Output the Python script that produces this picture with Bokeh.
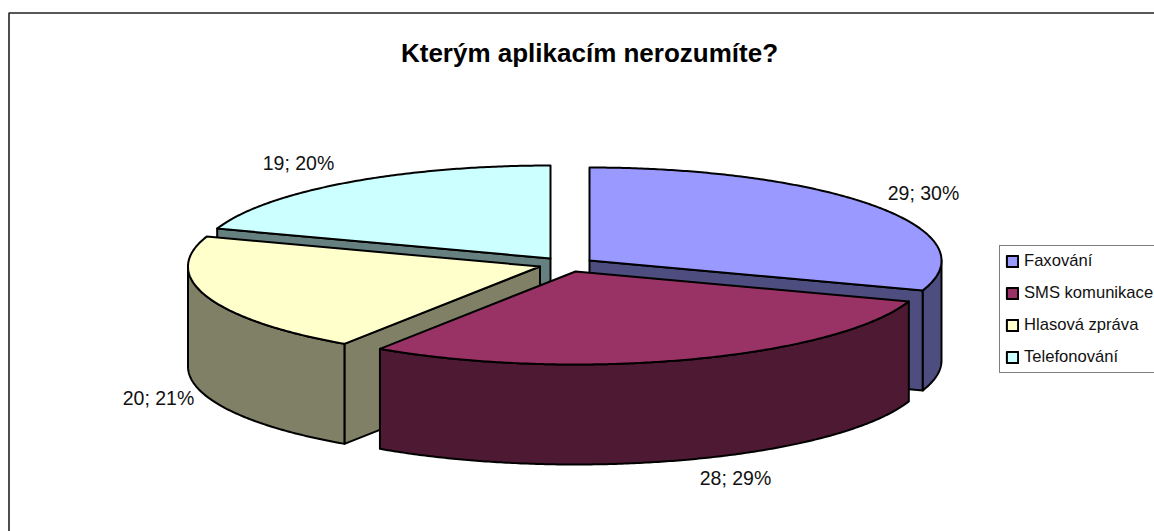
import numpy as np
from bokeh.plotting import figure
from bokeh.models import Range1d, Legend, LegendItem
from bokeh.core.properties import value
from bokeh.embed import file_html
from bokeh.resources import INLINE

# data
title = "Kterým aplikacím nerozumíte?"
categories = ["Faxování", "SMS komunikace", "Hlasová zpráva", "Telefonování"]
values = [29, 28, 20, 19]

# style
top_colors = ["#9999FF", "#993366", "#FFFFCC", "#CCFFFF"]
side_colors = ["#4D4D80", "#4D1933", "#808066", "#668080"]

# layout (page pixels)
apex_x = [589, 575, 539.5, 550]
apex_y = [260, 271, 266, 258]
label_x = [923, 735, 158, 298]
label_y = [192, 477, 397, 162]
RX, RY, DEPTH = 352, 93, 100
DRAW_ORDER = [3, 0, 2, 1]
LW = 2

p = figure(width=1154, height=531, output_backend="svg", toolbar_location=None,
           x_range=Range1d(0, 1154), y_range=Range1d(531, 0),
           min_border=0, outline_line_color=None, x_axis_type=None, y_axis_type=None)
p.grid.visible = False
p.background_fill_color = "white"
p.border_fill_color = "white"

# chart frame (right and bottom run off the page)
p.line([8.5, 8.5, 1154], [531, 12.5, 12.5], line_color="#222222", line_width=1.6)

total = sum(values)
edges = np.concatenate([[0], np.cumsum(values)]) / total * 360.0


def arc(cx, cy, a0, a1, dy=0.0):
    n = max(2, int(abs(a1 - a0)) * 2 + 2)
    t = np.radians(np.linspace(a0, a1, n))
    return cx + RX * np.sin(t), cy - RY * np.cos(t) + dy


def wall(cx, cy, t, color):
    ex, ey = arc(cx, cy, t, t)
    xs = [cx, ex[0], ex[0], cx]
    ys = [cy, ey[0], ey[0] + DEPTH, cy + DEPTH]
    p.patch(xs, ys, fill_color=color, line_color="black", line_width=LW, line_join="round")


top_renderers = {}
for i in DRAW_ORDER:
    a0, a1 = edges[i], edges[i + 1]
    cx, cy = apex_x[i], apex_y[i]
    # flat cut faces that look towards the viewer
    if a1 < 180:
        wall(cx, cy, a1, side_colors[i])
    if a0 > 180:
        wall(cx, cy, a0, side_colors[i])
    # curved outer wall, front half only
    lo, hi = max(a0, 90), min(a1, 270)
    if lo < hi:
        x1, y1 = arc(cx, cy, lo, hi)
        x2, y2 = arc(cx, cy, hi, lo, DEPTH)
        p.patch(np.r_[x1, x2], np.r_[y1, y2], fill_color=side_colors[i],
                line_color="black", line_width=LW, line_join="round")
    # top face
    x1, y1 = arc(cx, cy, a0, a1)
    top_renderers[i] = p.patch(np.r_[cx, x1], np.r_[cy, y1], fill_color=top_colors[i],
                               line_color="black", line_width=LW, line_join="round")

labels = [f"{v}; {round(v / total * 100)}%" for v in values]
p.text(label_x, label_y, text=labels, text_align="center", text_baseline="middle",
       text_font=value("Liberation Sans"), text_font_size="19.5px", text_color="#111111")

p.text([589], [52], text=[title], text_align="center", text_baseline="middle",
       text_font=value("Liberation Sans"), text_font_style="bold",
       text_font_size="26px", text_color="black")

legend = Legend(
    items=[LegendItem(label=c, renderers=[top_renderers[i]]) for i, c in enumerate(categories)],
    location=(999, 158), orientation="vertical",
    label_text_font="Liberation Sans", label_text_font_size="16.6px", label_text_color="#111111",
    glyph_width=14, glyph_height=14, label_standoff=5, spacing=12, padding=5,
    margin=0, border_line_color="black", border_line_width=1.6, background_fill_alpha=1,
    click_policy="none",
)
p.add_layout(legend)

open("out.html", "w").write(file_html(p, INLINE))
